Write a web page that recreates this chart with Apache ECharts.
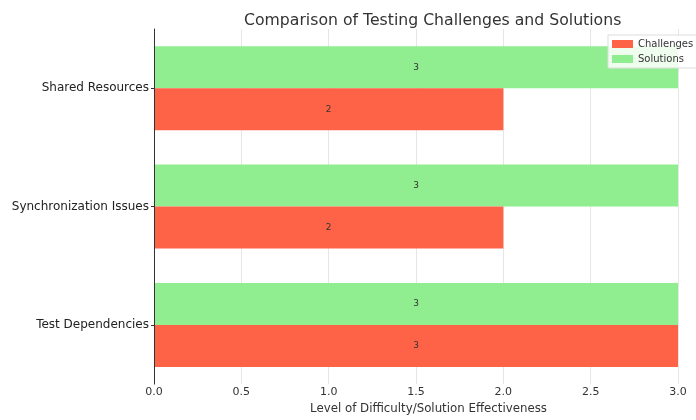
<!DOCTYPE html>
<html><head><meta charset="utf-8">
<script src="https://cdn.jsdelivr.net/npm/echarts@6/dist/echarts.min.js"></script>
<style>html,body{margin:0;padding:0;background:#fff}#c{width:696px;height:420px}</style>
</head><body><div id="c"></div>
<script>
const categories = ['Test Dependencies', 'Synchronization Issues', 'Shared Resources'];
const challenges = [3, 2, 2];
const solutions = [3, 3, 3];
const xTicks = [0, 0.5, 1, 1.5, 2, 2.5, 3];

const font = 'DejaVu Sans';
const chart = echarts.init(document.getElementById('c'), null, {renderer: 'canvas'});
const labelCfg = {show: true, position: 'inside', color: '#333', fontSize: 9, fontFamily: font};
chart.setOption({
  animation: false,
  title: {text: 'Comparison of Testing Challenges and Solutions', left: 239, top: 8,
    textStyle: {fontFamily: font, fontSize: 15.7, fontWeight: 'normal', color: '#333'}},
  legend: {data: ['Challenges', 'Solutions'], orient: 'vertical', left: 608, top: 35,
    itemWidth: 21, itemHeight: 8, itemGap: 5, padding: [4, 4, 4, 4],
    borderColor: '#ddd', borderWidth: 1, backgroundColor: 'rgba(255,255,255,0.85)',
    textStyle: {fontFamily: font, fontSize: 10, color: '#333'}, icon: 'rect'},
  grid: {left: 154, right: 18, top: 29, bottom: 32},
  xAxis: {type: 'value', min: xTicks[0], max: xTicks[xTicks.length - 1], interval: 0.5,
    name: 'Level of Difficulty/Solution Effectiveness', nameLocation: 'middle', nameGap: 17,
    nameTextStyle: {fontFamily: font, fontSize: 11.8, color: '#333', padding: [0, 0, 0, 25]},
    axisLine: {lineStyle: {color: '#333', width: 1}},
    axisTick: {show: false},
    axisLabel: {fontFamily: font, fontSize: 11, color: '#333', margin: 3, formatter: v => v.toFixed(1)},
    splitLine: {show: true, lineStyle: {color: '#e6e6e6', width: 1}}},
  yAxis: {type: 'category', data: categories, z: 5,
    axisLine: {show: true, lineStyle: {color: '#333', width: 1}},
    axisTick: {show: true, length: 3, alignWithLabel: true, lineStyle: {color: '#333'}},
    axisLabel: {fontFamily: font, fontSize: 12, color: '#222', margin: 5}},
  series: [
    {name: 'Solutions', type: 'bar', data: solutions,
      barWidth: 42, barGap: '0%', itemStyle: {color: '#90EE90'}, label: labelCfg},
    {name: 'Challenges', type: 'bar', data: challenges,
      barWidth: 42, barGap: '0%', itemStyle: {color: '#FF6347'}, label: labelCfg}
  ]
});
</script></body></html>
